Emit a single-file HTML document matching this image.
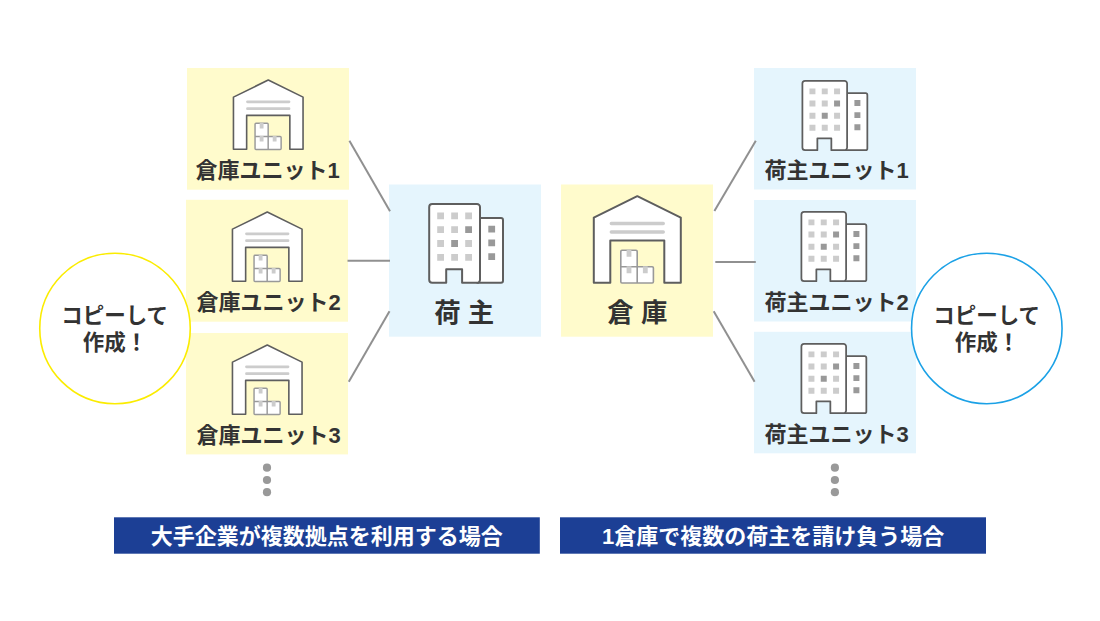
<!DOCTYPE html>
<html lang="ja">
<head>
<meta charset="utf-8">
<title>ユニットのコピー作成イメージ</title>
<style>
html,body{margin:0;padding:0;background:#ffffff;}
body{width:1100px;height:621px;position:relative;overflow:hidden;font-family:"Liberation Sans",sans-serif;}
#art{position:absolute;left:0;top:0;width:1100px;height:621px;display:block;}
#art text{font-family:"Liberation Sans","Noto Sans CJK JP",sans-serif;font-weight:bold;text-anchor:middle;}
</style>
</head>
<body>
<svg id="art" width="1100" height="621" viewBox="0 0 1100 621">
<rect x="187" y="68" width="162" height="121.7" fill="#fffbcc"/>
<g transform="translate(268.25 80) scale(0.8)"><path d="M-43.5 86.5V21.4L0 0L43.5 21.4V86.5H27V44.2H-27V86.5Z" fill="#fff" stroke="#5e5e5e" stroke-width="2" stroke-linejoin="round"/><path d="M-26 27.3H26M-26 35.8H26" stroke="#cccccc" stroke-width="3.4" stroke-linecap="round" fill="none"/><path d="M-15.3 54.1H-1.3a1.2 1.2 0 0 1 1.2 1.2V70.6H14.9a1.2 1.2 0 0 1 1.2 1.2V85.6a1.2 1.2 0 0 1 -1.2 1.2H-15.3a1.2 1.2 0 0 1 -1.2 -1.2V55.3a1.2 1.2 0 0 1 1.2 -1.2Z" fill="#fff" stroke="#999999" stroke-width="1.8" stroke-linejoin="round"/><path d="M-16.5 70.6H-0.1V86.8" fill="none" stroke="#999999" stroke-width="1.8"/><path d="M-10.7 53.5h4.8v7h-4.8zM-10.7 70h4.8v7h-4.8zM5.6 70h4.8v7h-4.8z" fill="#cccccc"/></g>
<text x="267.6" y="177.8" font-size="22" fill="#333333">倉庫ユニット1</text>
<rect x="186" y="199.8" width="162" height="121.9" fill="#fffbcc"/>
<g transform="translate(267.25 212) scale(0.8)"><path d="M-43.5 86.5V21.4L0 0L43.5 21.4V86.5H27V44.2H-27V86.5Z" fill="#fff" stroke="#5e5e5e" stroke-width="2" stroke-linejoin="round"/><path d="M-26 27.3H26M-26 35.8H26" stroke="#cccccc" stroke-width="3.4" stroke-linecap="round" fill="none"/><path d="M-15.3 54.1H-1.3a1.2 1.2 0 0 1 1.2 1.2V70.6H14.9a1.2 1.2 0 0 1 1.2 1.2V85.6a1.2 1.2 0 0 1 -1.2 1.2H-15.3a1.2 1.2 0 0 1 -1.2 -1.2V55.3a1.2 1.2 0 0 1 1.2 -1.2Z" fill="#fff" stroke="#999999" stroke-width="1.8" stroke-linejoin="round"/><path d="M-16.5 70.6H-0.1V86.8" fill="none" stroke="#999999" stroke-width="1.8"/><path d="M-10.7 53.5h4.8v7h-4.8zM-10.7 70h4.8v7h-4.8zM5.6 70h4.8v7h-4.8z" fill="#cccccc"/></g>
<text x="268.7" y="309.8" font-size="22" fill="#333333">倉庫ユニット2</text>
<rect x="186" y="333" width="162" height="121.4" fill="#fffbcc"/>
<g transform="translate(267.25 345) scale(0.8)"><path d="M-43.5 86.5V21.4L0 0L43.5 21.4V86.5H27V44.2H-27V86.5Z" fill="#fff" stroke="#5e5e5e" stroke-width="2" stroke-linejoin="round"/><path d="M-26 27.3H26M-26 35.8H26" stroke="#cccccc" stroke-width="3.4" stroke-linecap="round" fill="none"/><path d="M-15.3 54.1H-1.3a1.2 1.2 0 0 1 1.2 1.2V70.6H14.9a1.2 1.2 0 0 1 1.2 1.2V85.6a1.2 1.2 0 0 1 -1.2 1.2H-15.3a1.2 1.2 0 0 1 -1.2 -1.2V55.3a1.2 1.2 0 0 1 1.2 -1.2Z" fill="#fff" stroke="#999999" stroke-width="1.8" stroke-linejoin="round"/><path d="M-16.5 70.6H-0.1V86.8" fill="none" stroke="#999999" stroke-width="1.8"/><path d="M-10.7 53.5h4.8v7h-4.8zM-10.7 70h4.8v7h-4.8zM5.6 70h4.8v7h-4.8z" fill="#cccccc"/></g>
<text x="268.7" y="442.8" font-size="22" fill="#333333">倉庫ユニット3</text>
<rect x="389" y="184.5" width="152" height="152.2" fill="#e5f5fd"/>
<g transform="translate(429.2 204) scale(1)"><path d="M48 14H71.8a2 2 0 0 1 2 2V76.8a2 2 0 0 1 -2 2H48Z" fill="#fff" stroke="#5e5e5e" stroke-width="2" stroke-linejoin="round"/><path d="M3 0H47.8a3 3 0 0 1 3 3V75.8a3 3 0 0 1 -3 3H32.9V65.3H17V78.8H3a3 3 0 0 1 -3 -3V3a3 3 0 0 1 3 -3Z" fill="#fff" stroke="#5e5e5e" stroke-width="2" stroke-linejoin="round"/><path d="M8 8.5h6.8v6.8h-6.8zM22 8.5h6.8v6.8h-6.8zM36 8.5h6.8v6.8h-6.8zM8 22.3h6.8v6.8h-6.8zM22 22.3h6.8v6.8h-6.8zM8 36.1h6.8v6.8h-6.8zM36 36.1h6.8v6.8h-6.8zM8 49.9h6.8v6.8h-6.8zM22 49.9h6.8v6.8h-6.8zM36 49.9h6.8v6.8h-6.8z" fill="#cccccc"/><path d="M36 22.3h6.8v6.8h-6.8zM22 36.1h6.8v6.8h-6.8zM59.1 21.8h6.8v6.8h-6.8zM59.1 35.5h6.8v6.8h-6.8zM59.1 49.3h6.8v6.8h-6.8z" fill="#999999"/></g>
<text x="464.2" y="321.6" font-size="26.4" fill="#333333" xml:space="preserve">荷 主</text>
<rect x="561" y="184.5" width="152" height="152.2" fill="#fffbcc"/>
<g transform="translate(637.3 196.2) scale(1)"><path d="M-43.5 86.5V21.4L0 0L43.5 21.4V86.5H27V44.2H-27V86.5Z" fill="#fff" stroke="#5e5e5e" stroke-width="2" stroke-linejoin="round"/><path d="M-26 27.3H26M-26 35.8H26" stroke="#cccccc" stroke-width="3.4" stroke-linecap="round" fill="none"/><path d="M-15.3 54.1H-1.3a1.2 1.2 0 0 1 1.2 1.2V70.6H14.9a1.2 1.2 0 0 1 1.2 1.2V85.6a1.2 1.2 0 0 1 -1.2 1.2H-15.3a1.2 1.2 0 0 1 -1.2 -1.2V55.3a1.2 1.2 0 0 1 1.2 -1.2Z" fill="#fff" stroke="#999999" stroke-width="1.6" stroke-linejoin="round"/><path d="M-16.5 70.6H-0.1V86.8" fill="none" stroke="#999999" stroke-width="1.6"/><path d="M-10.7 53.5h4.8v7h-4.8zM-10.7 70h4.8v7h-4.8zM5.6 70h4.8v7h-4.8z" fill="#cccccc"/></g>
<text x="637.35" y="322" font-size="26.4" fill="#333333" xml:space="preserve">倉 庫</text>
<rect x="754" y="68" width="162" height="121.5" fill="#e5f5fd"/>
<g transform="translate(802.4 80.9) scale(0.88)"><path d="M48 14H71.8a2 2 0 0 1 2 2V76.8a2 2 0 0 1 -2 2H48Z" fill="#fff" stroke="#5e5e5e" stroke-width="2" stroke-linejoin="round"/><path d="M3 0H47.8a3 3 0 0 1 3 3V75.8a3 3 0 0 1 -3 3H32.9V65.3H17V78.8H3a3 3 0 0 1 -3 -3V3a3 3 0 0 1 3 -3Z" fill="#fff" stroke="#5e5e5e" stroke-width="2" stroke-linejoin="round"/><path d="M8 8.5h6.8v6.8h-6.8zM22 8.5h6.8v6.8h-6.8zM36 8.5h6.8v6.8h-6.8zM8 22.3h6.8v6.8h-6.8zM22 22.3h6.8v6.8h-6.8zM8 36.1h6.8v6.8h-6.8zM36 36.1h6.8v6.8h-6.8zM8 49.9h6.8v6.8h-6.8zM22 49.9h6.8v6.8h-6.8zM36 49.9h6.8v6.8h-6.8z" fill="#cccccc"/><path d="M36 22.3h6.8v6.8h-6.8zM22 36.1h6.8v6.8h-6.8zM59.1 21.8h6.8v6.8h-6.8zM59.1 35.5h6.8v6.8h-6.8zM59.1 49.3h6.8v6.8h-6.8z" fill="#999999"/></g>
<text x="836.5" y="177.9" font-size="22" fill="#333333">荷主ユニット1</text>
<rect x="754" y="200" width="162" height="121.5" fill="#e5f5fd"/>
<g transform="translate(801.4 211.9) scale(0.88)"><path d="M48 14H71.8a2 2 0 0 1 2 2V76.8a2 2 0 0 1 -2 2H48Z" fill="#fff" stroke="#5e5e5e" stroke-width="2" stroke-linejoin="round"/><path d="M3 0H47.8a3 3 0 0 1 3 3V75.8a3 3 0 0 1 -3 3H32.9V65.3H17V78.8H3a3 3 0 0 1 -3 -3V3a3 3 0 0 1 3 -3Z" fill="#fff" stroke="#5e5e5e" stroke-width="2" stroke-linejoin="round"/><path d="M8 8.5h6.8v6.8h-6.8zM22 8.5h6.8v6.8h-6.8zM36 8.5h6.8v6.8h-6.8zM8 22.3h6.8v6.8h-6.8zM22 22.3h6.8v6.8h-6.8zM8 36.1h6.8v6.8h-6.8zM36 36.1h6.8v6.8h-6.8zM8 49.9h6.8v6.8h-6.8zM22 49.9h6.8v6.8h-6.8zM36 49.9h6.8v6.8h-6.8z" fill="#cccccc"/><path d="M36 22.3h6.8v6.8h-6.8zM22 36.1h6.8v6.8h-6.8zM59.1 21.8h6.8v6.8h-6.8zM59.1 35.5h6.8v6.8h-6.8zM59.1 49.3h6.8v6.8h-6.8z" fill="#999999"/></g>
<text x="836.5" y="309.9" font-size="22" fill="#333333">荷主ユニット2</text>
<rect x="754" y="331.8" width="162" height="121.5" fill="#e5f5fd"/>
<g transform="translate(801.4 343.9) scale(0.88)"><path d="M48 14H71.8a2 2 0 0 1 2 2V76.8a2 2 0 0 1 -2 2H48Z" fill="#fff" stroke="#5e5e5e" stroke-width="2" stroke-linejoin="round"/><path d="M3 0H47.8a3 3 0 0 1 3 3V75.8a3 3 0 0 1 -3 3H32.9V65.3H17V78.8H3a3 3 0 0 1 -3 -3V3a3 3 0 0 1 3 -3Z" fill="#fff" stroke="#5e5e5e" stroke-width="2" stroke-linejoin="round"/><path d="M8 8.5h6.8v6.8h-6.8zM22 8.5h6.8v6.8h-6.8zM36 8.5h6.8v6.8h-6.8zM8 22.3h6.8v6.8h-6.8zM22 22.3h6.8v6.8h-6.8zM8 36.1h6.8v6.8h-6.8zM36 36.1h6.8v6.8h-6.8zM8 49.9h6.8v6.8h-6.8zM22 49.9h6.8v6.8h-6.8zM36 49.9h6.8v6.8h-6.8z" fill="#cccccc"/><path d="M36 22.3h6.8v6.8h-6.8zM22 36.1h6.8v6.8h-6.8zM59.1 21.8h6.8v6.8h-6.8zM59.1 35.5h6.8v6.8h-6.8zM59.1 49.3h6.8v6.8h-6.8z" fill="#999999"/></g>
<text x="836.5" y="441.9" font-size="22" fill="#333333">荷主ユニット3</text>
<g stroke="#909090" stroke-width="2" fill="none">
<path d="M349.4 140.8L390 211.2"/>
<path d="M347.5 260.85H390"/>
<path d="M348.8 381.8L389.5 311.3"/>
<path d="M714.4 211.1L755.8 140.8"/>
<path d="M715.3 262H755.8"/>
<path d="M713.7 311.3L754.6 381.8"/>
</g>
<circle cx="115" cy="328.45" r="75.25" fill="#fff" stroke="#fbec00" stroke-width="1.6"/>
<text x="114.7" y="322.5" font-size="21.5" fill="#333333">コピーして</text>
<text x="114.9" y="349.5" font-size="21.5" fill="#333333">作成！</text>
<circle cx="986.8" cy="328.45" r="75.25" fill="#fff" stroke="#1ba1e6" stroke-width="1.6"/>
<text x="986.7" y="322.5" font-size="21.5" fill="#333333">コピーして</text>
<text x="986.9" y="349.5" font-size="21.5" fill="#333333">作成！</text>
<circle cx="267" cy="467.7" r="4.1" fill="#999999"/>
<circle cx="267" cy="480" r="4.1" fill="#999999"/>
<circle cx="267" cy="492.2" r="4.1" fill="#999999"/>
<circle cx="834.9" cy="467.7" r="4.1" fill="#999999"/>
<circle cx="834.9" cy="480" r="4.1" fill="#999999"/>
<circle cx="834.9" cy="492.2" r="4.1" fill="#999999"/>
<rect x="114" y="517.3" width="425.8" height="36.4" fill="#1c3f95"/>
<text x="326.8" y="543.5" font-size="22" fill="#ffffff">大手企業が複数拠点を利用する場合</text>
<rect x="560" y="517.3" width="426" height="36.4" fill="#1c3f95"/>
<text x="773.1" y="543.5" font-size="22" fill="#ffffff">1倉庫で複数の荷主を請け負う場合</text>
</svg>
</body>
</html>
